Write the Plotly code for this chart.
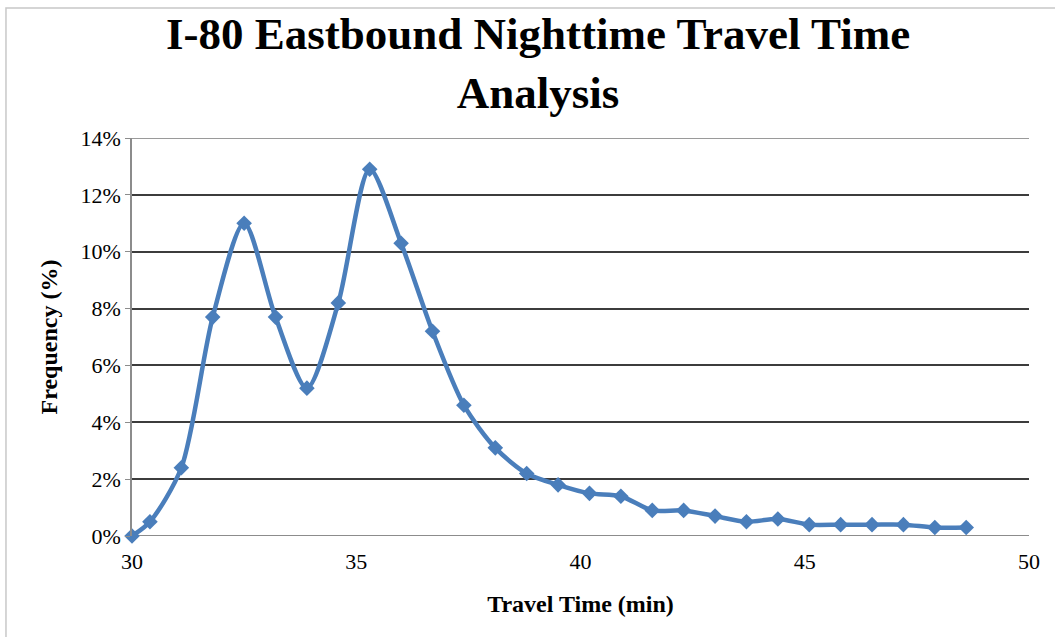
import plotly.graph_objects as go

# Travel time bins (minutes) and share of trips in each bin (%)
travel_time = [30.0, 30.4, 31.1, 31.8, 32.5, 33.2, 33.9, 34.6, 35.3, 36.0,
               36.7, 37.4, 38.1, 38.8, 39.5, 40.2, 40.9, 41.6, 42.3, 43.0,
               43.7, 44.4, 45.1, 45.8, 46.5, 47.2, 47.9, 48.6]
frequency_pct = [0.0, 0.5, 2.4, 7.7, 11.0, 7.7, 5.2, 8.2, 12.9, 10.3,
                 7.2, 4.6, 3.1, 2.2, 1.8, 1.5, 1.4, 0.9, 0.9, 0.7,
                 0.5, 0.6, 0.4, 0.4, 0.4, 0.4, 0.3, 0.3]
y_ticks = [0, 2, 4, 6, 8, 10, 12, 14]
x_ticks = [30, 35, 40, 45, 50]

frequency = [v / 100 for v in frequency_pct]

SERIF = "Liberation Serif, Times New Roman, serif"
BLUE = "#4A7EBB"

fig = go.Figure()
fig.add_trace(go.Scatter(
    x=travel_time,
    y=frequency,
    mode="lines+markers",
    line=dict(color=BLUE, width=4.5, shape="spline", smoothing=0.8),
    marker=dict(symbol="diamond", size=12, color=BLUE),
    showlegend=False,
    cliponaxis=False,
))

# outer chart frame
fig.add_shape(type="rect", xref="paper", yref="paper",
              x0=-0.1405, x1=1.04, y0=-0.27, y1=1.3266,
              line=dict(color="#C8C8C8", width=1.5), layer="below")

fig.update_layout(
    width=1055, height=637,
    margin=dict(l=132, r=26, t=138, b=101),
    paper_bgcolor="white",
    plot_bgcolor="white",
    title=dict(
        text="I-80 Eastbound Nighttime Travel Time<br>Analysis",
        x=0.51, xanchor="center", y=0.9226, yanchor="middle",
        font=dict(family=SERIF, size=45, color="black", weight="bold"),
    ),
    xaxis=dict(
        range=[30, 50],
        tickvals=x_ticks,
        ticktext=[str(v) for v in x_ticks],
        showgrid=False,
        zeroline=False,
        showline=False,
        ticks="",
        ticklabelstandoff=10,
        tickfont=dict(family=SERIF, size=22, color="black"),
        title=dict(text="Travel Time (min)", standoff=22,
                   font=dict(family=SERIF, size=24, color="black", weight="bold")),
    ),
    yaxis=dict(
        range=[0, 0.14],
        tickvals=[v / 100 for v in y_ticks],
        ticktext=[f"{v}%" for v in y_ticks],
        showgrid=True,
        gridcolor="#3C3C3C",
        gridwidth=1.5,
        zeroline=False,
        showline=True,
        linecolor="#8C8C8C",
        linewidth=1.5,
        ticks="outside",
        ticklen=5,
        tickcolor="#8C8C8C",
        tickfont=dict(family=SERIF, size=22, color="black"),
        title=dict(text="Frequency (%)", standoff=16,
                   font=dict(family=SERIF, size=24, color="black", weight="bold")),
    ),
)

# baseline at 0% drawn in grey like the axis line
fig.add_shape(type="line", xref="paper", yref="y", x0=0, x1=1, y0=0, y1=0,
              line=dict(color="#8C8C8C", width=2), layer="below")
# top gridline at 14% in lighter grey
fig.add_shape(type="line", xref="paper", yref="y", x0=0, x1=1, y0=0.14, y1=0.14,
              line=dict(color="#9A9A9A", width=2), layer="below")

fig.write_html("out.html")
